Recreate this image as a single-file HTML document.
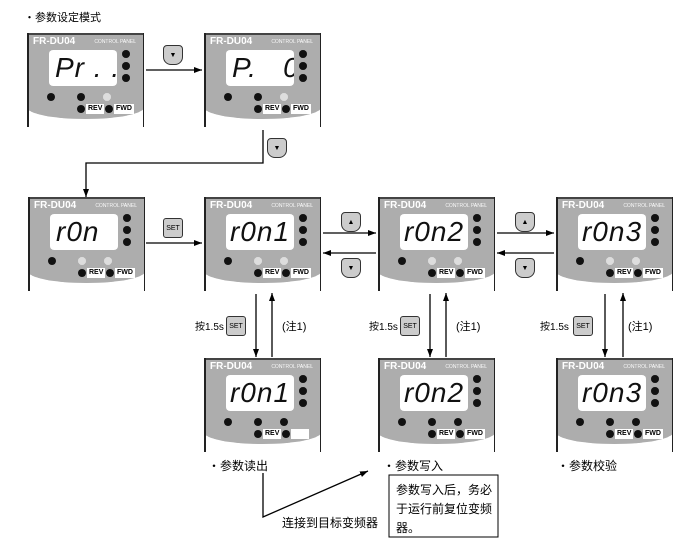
<!DOCTYPE html>
<html><head><meta charset="utf-8"><style>
body{margin:0;width:681px;height:559px;background:#fff;position:relative;overflow:hidden;font-family:"Liberation Sans","Noto Sans CJK SC",sans-serif;}
.a{position:absolute}
.p{position:absolute;width:117px;height:94px;}
.p .bg{position:absolute;left:0;top:0;width:117px;height:86px;background:#b9b9b9;border-radius:0 0 60px 60px/0 0 12px 12px;border-top:2px solid #444;box-sizing:border-box;background-image:radial-gradient(#888 0.6px,transparent 0.7px);background-size:2px 2px;}
.p .sl,.p .sr{position:absolute;top:0;width:1.5px;height:94px;background:#222}
.p .sl{left:0}.p .sr{right:0}
.p .t1{position:absolute;left:6px;top:3px;color:#fff;font-size:10px;font-weight:bold}
.p .t2{position:absolute;right:8px;top:6px;color:#fff;font-size:5px}
.p .d{position:absolute;left:22px;top:17px;width:68px;height:36px;background:#fff;border-radius:4px;font-family:"Liberation Sans",sans-serif;font-style:italic;font-size:28px;line-height:36px;text-align:center;letter-spacing:1px;color:#111;white-space:nowrap;overflow:hidden}
.p .k{position:absolute;width:8px;height:8px;border-radius:50%;background:#111}
.p .kw{background:#ddd}
.p .l{position:absolute;background:#fff;font-size:7px;font-weight:bold;height:10px;line-height:10px;padding:0 2px}
.btn{position:absolute;width:20px;height:20px;border:1.5px solid #333;border-radius:4px 4px 8px 8px;background:#ccc;font-size:7px;text-align:center;line-height:20px;box-sizing:border-box}
.tx{position:absolute;font-size:11px;white-space:nowrap}
</style></head><body>
<svg class="a" style="left:0;top:0" width="681" height="559">
<defs><marker id="m" markerWidth="8" markerHeight="6" refX="8" refY="3" orient="auto" markerUnits="userSpaceOnUse"><path d="M0,0L8,3L0,6z" fill="#000"/></marker></defs>
<g stroke="#000" stroke-width="1.3" fill="none">
<line x1="146" y1="70" x2="202" y2="70" marker-end="url(#m)"/>
<polyline points="263,130 263,163 86,163 86,197" marker-end="url(#m)"/>
<line x1="146" y1="243" x2="202" y2="243" marker-end="url(#m)"/>
<line x1="323" y1="233" x2="376" y2="233" marker-end="url(#m)"/>
<line x1="376" y1="253" x2="323" y2="253" marker-end="url(#m)"/>
<line x1="497" y1="233" x2="554" y2="233" marker-end="url(#m)"/>
<line x1="554" y1="253" x2="497" y2="253" marker-end="url(#m)"/>
<line x1="256" y1="294" x2="256" y2="357" marker-end="url(#m)"/>
<line x1="272" y1="357" x2="272" y2="293" marker-end="url(#m)"/>
<line x1="430" y1="294" x2="430" y2="357" marker-end="url(#m)"/>
<line x1="446" y1="357" x2="446" y2="293" marker-end="url(#m)"/>
<line x1="605" y1="294" x2="605" y2="357" marker-end="url(#m)"/>
<line x1="623" y1="357" x2="623" y2="293" marker-end="url(#m)"/>
<polyline points="263,473 263,517 368,471" marker-end="url(#m)"/>
</g>
<rect x="389" y="475" width="109" height="62" fill="none" stroke="#000" stroke-width="1"/>
</svg>

<div class="tx" style="left:24px;top:9px">・参数设定模式</div>

<div class="p" style="left:27px;top:33px"><div class="bg"></div><div class="sl"></div><div class="sr"></div><div class="t1">FR-DU04</div><div class="t2">CONTROL PANEL</div><div class="d" style="text-align:left;padding-left:6px;box-sizing:border-box">Pr . .</div><div class="k" style="left:95px;top:17px"></div><div class="k" style="left:95px;top:29px"></div><div class="k" style="left:95px;top:41px"></div><div class="k" style="left:20px;top:60px"></div><div class="k" style="left:50px;top:60px"></div><div class="k kw" style="left:76px;top:60px"></div><div class="k" style="left:50px;top:72px"></div><div class="l" style="left:59px;top:71px">REV</div><div class="k" style="left:78px;top:72px"></div><div class="l" style="left:87px;top:71px">FWD</div></div>

<div class="p" style="left:204px;top:33px"><div class="bg"></div><div class="sl"></div><div class="sr"></div><div class="t1">FR-DU04</div><div class="t2">CONTROL PANEL</div><div class="d" style="text-align:left;padding-left:6px;box-sizing:border-box">P.&nbsp;&nbsp;&nbsp;0</div><div class="k" style="left:95px;top:17px"></div><div class="k" style="left:95px;top:29px"></div><div class="k" style="left:95px;top:41px"></div><div class="k" style="left:20px;top:60px"></div><div class="k" style="left:50px;top:60px"></div><div class="k kw" style="left:76px;top:60px"></div><div class="k" style="left:50px;top:72px"></div><div class="l" style="left:59px;top:71px">REV</div><div class="k" style="left:78px;top:72px"></div><div class="l" style="left:87px;top:71px">FWD</div></div>

<div class="p" style="left:28px;top:197px"><div class="bg"></div><div class="sl"></div><div class="sr"></div><div class="t1">FR-DU04</div><div class="t2">CONTROL PANEL</div><div class="d" style="text-align:left;padding-left:6px;box-sizing:border-box">r0n</div><div class="k" style="left:95px;top:17px"></div><div class="k" style="left:95px;top:29px"></div><div class="k" style="left:95px;top:41px"></div><div class="k" style="left:20px;top:60px"></div><div class="k kw" style="left:50px;top:60px"></div><div class="k kw" style="left:76px;top:60px"></div><div class="k" style="left:50px;top:72px"></div><div class="l" style="left:59px;top:71px">REV</div><div class="k" style="left:78px;top:72px"></div><div class="l" style="left:87px;top:71px">FWD</div></div>

<div class="p" style="left:204px;top:197px"><div class="bg"></div><div class="sl"></div><div class="sr"></div><div class="t1">FR-DU04</div><div class="t2">CONTROL PANEL</div><div class="d">r0n1</div><div class="k" style="left:95px;top:17px"></div><div class="k" style="left:95px;top:29px"></div><div class="k" style="left:95px;top:41px"></div><div class="k" style="left:20px;top:60px"></div><div class="k kw" style="left:50px;top:60px"></div><div class="k kw" style="left:76px;top:60px"></div><div class="k" style="left:50px;top:72px"></div><div class="l" style="left:59px;top:71px">REV</div><div class="k" style="left:78px;top:72px"></div><div class="l" style="left:87px;top:71px">FWD</div></div>

<div class="p" style="left:378px;top:197px"><div class="bg"></div><div class="sl"></div><div class="sr"></div><div class="t1">FR-DU04</div><div class="t2">CONTROL PANEL</div><div class="d">r0n2</div><div class="k" style="left:95px;top:17px"></div><div class="k" style="left:95px;top:29px"></div><div class="k" style="left:95px;top:41px"></div><div class="k" style="left:20px;top:60px"></div><div class="k kw" style="left:50px;top:60px"></div><div class="k kw" style="left:76px;top:60px"></div><div class="k" style="left:50px;top:72px"></div><div class="l" style="left:59px;top:71px">REV</div><div class="k" style="left:78px;top:72px"></div><div class="l" style="left:87px;top:71px">FWD</div></div>

<div class="p" style="left:556px;top:197px"><div class="bg"></div><div class="sl"></div><div class="sr"></div><div class="t1">FR-DU04</div><div class="t2">CONTROL PANEL</div><div class="d">r0n3</div><div class="k" style="left:95px;top:17px"></div><div class="k" style="left:95px;top:29px"></div><div class="k" style="left:95px;top:41px"></div><div class="k" style="left:20px;top:60px"></div><div class="k kw" style="left:50px;top:60px"></div><div class="k kw" style="left:76px;top:60px"></div><div class="k" style="left:50px;top:72px"></div><div class="l" style="left:59px;top:71px">REV</div><div class="k" style="left:78px;top:72px"></div><div class="l" style="left:87px;top:71px">FWD</div></div>

<div class="p" style="left:204px;top:358px"><div class="bg"></div><div class="sl"></div><div class="sr"></div><div class="t1">FR-DU04</div><div class="t2">CONTROL PANEL</div><div class="d">r0n1</div><div class="k" style="left:95px;top:17px"></div><div class="k" style="left:95px;top:29px"></div><div class="k" style="left:95px;top:41px"></div><div class="k" style="left:20px;top:60px"></div><div class="k" style="left:50px;top:60px"></div><div class="k" style="left:76px;top:60px"></div><div class="k" style="left:50px;top:72px"></div><div class="l" style="left:59px;top:71px">REV</div><div class="k" style="left:78px;top:72px"></div><div class="l" style="left:87px;top:71px">&nbsp;&nbsp;&nbsp;&nbsp;&nbsp;&nbsp;&nbsp;</div></div>

<div class="p" style="left:378px;top:358px"><div class="bg"></div><div class="sl"></div><div class="sr"></div><div class="t1">FR-DU04</div><div class="t2">CONTROL PANEL</div><div class="d">r0n2</div><div class="k" style="left:95px;top:17px"></div><div class="k" style="left:95px;top:29px"></div><div class="k" style="left:95px;top:41px"></div><div class="k" style="left:20px;top:60px"></div><div class="k" style="left:50px;top:60px"></div><div class="k" style="left:76px;top:60px"></div><div class="k" style="left:50px;top:72px"></div><div class="l" style="left:59px;top:71px">REV</div><div class="k" style="left:78px;top:72px"></div><div class="l" style="left:87px;top:71px">FWD</div></div>

<div class="p" style="left:556px;top:358px"><div class="bg"></div><div class="sl"></div><div class="sr"></div><div class="t1">FR-DU04</div><div class="t2">CONTROL PANEL</div><div class="d">r0n3</div><div class="k" style="left:95px;top:17px"></div><div class="k" style="left:95px;top:29px"></div><div class="k" style="left:95px;top:41px"></div><div class="k" style="left:20px;top:60px"></div><div class="k" style="left:50px;top:60px"></div><div class="k" style="left:76px;top:60px"></div><div class="k" style="left:50px;top:72px"></div><div class="l" style="left:59px;top:71px">REV</div><div class="k" style="left:78px;top:72px"></div><div class="l" style="left:87px;top:71px">FWD</div></div>

<div class="btn" style="left:163px;top:45px">▼</div>
<div class="btn" style="left:267px;top:138px">▼</div>
<div class="btn" style="left:163px;top:218px;border-radius:3px">SET</div>
<div class="btn" style="left:341px;top:212px">▲</div>
<div class="btn" style="left:341px;top:258px">▼</div>
<div class="btn" style="left:515px;top:212px">▲</div>
<div class="btn" style="left:515px;top:258px">▼</div>
<div class="btn" style="left:226px;top:316px;border-radius:3px">SET</div>
<div class="btn" style="left:400px;top:316px;border-radius:3px">SET</div>
<div class="btn" style="left:573px;top:316px;border-radius:3px">SET</div>

<div class="tx" style="left:195px;top:318px;font-size:10px">按1.5s</div>
<div class="tx" style="left:282px;top:318px">(注1)</div>
<div class="tx" style="left:369px;top:318px;font-size:10px">按1.5s</div>
<div class="tx" style="left:456px;top:318px">(注1)</div>
<div class="tx" style="left:540px;top:318px;font-size:10px">按1.5s</div>
<div class="tx" style="left:628px;top:318px">(注1)</div>

<div class="tx" style="left:208px;top:457px;font-size:12px">・参数读出</div>
<div class="tx" style="left:383px;top:457px;font-size:12px">・参数写入</div>
<div class="tx" style="left:557px;top:457px;font-size:12px">・参数校验</div>
<div class="tx" style="left:282px;top:514px;font-size:12px">连接到目标变频器</div>
<div class="tx" style="left:396px;top:481px;line-height:19px;white-space:normal;width:98px;font-size:12px">参数写入后，务必于运行前复位变频器。</div>
</body></html>
